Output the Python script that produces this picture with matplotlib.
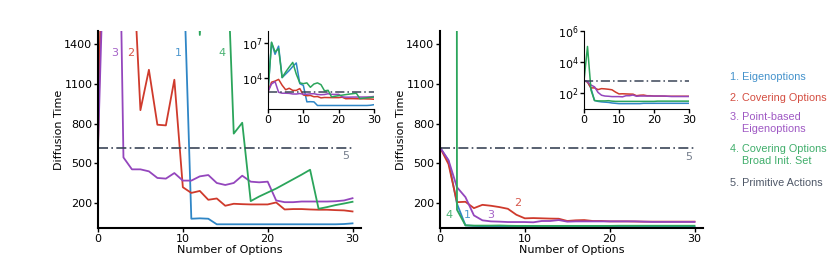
import matplotlib
matplotlib.use("Agg")
import matplotlib.pyplot as plt
import numpy as np

options = list(range(31))
primitive = 620

# Left environment
left_eigen = [620, 1.0e7, 1.0e6, 5.0e6, 1.0e4, 2.0e4, 4.0e4, 9.0e4, 1.8e5, 3.0e3, 2140,
              82, 85, 82, 40, 40, 40, 40, 40, 40, 40, 40, 40, 40, 40, 40, 40, 40, 40, 42, 47]
left_cover = [620, 4000, 5000, 7000, 2200, 902, 1207, 792, 787, 1132, 320,
              277, 292, 225, 235, 180, 195, 192, 190, 190, 190, 205, 152, 155, 155, 152,
              150, 150, 147, 145, 137]
left_point = [620, 2800, 4500, 545, 455, 455, 440, 390, 385, 427, 370,
              370, 402, 412, 352, 337, 352, 407, 362, 357, 362, 220, 207, 207, 212, 212,
              212, 212, 214, 220, 237]
left_broad = [620, 1.1e7, 1.6e6, 3.0e6, 1.0e4, 3.0e4, 8.0e4, 2.0e5, 2.0e4, 3.5e3, 3.0e3,
              3.5e3, 1470, 2.8e3, 3.5e3, 2450, 725, 807, 215, 250, 280, 310, 345, 380,
              415, 452, 157, 170, 185, 197, 210]

# Right environment
right_eigen = [620, 520, 195, 32, 28, 26, 25, 24, 22, 21, 20,
               20, 20, 20, 20, 20, 20, 21, 21, 21, 21, 21, 21, 21, 21, 21,
               21, 21, 21, 21, 21]
right_cover = [620, 495, 207, 210, 162, 187, 180, 170, 157, 112, 85,
               87, 85, 83, 82, 65, 70, 72, 65, 65, 62, 62, 62, 61, 60, 60,
               60, 60, 60, 60, 60]
right_point = [620, 525, 320, 245, 107, 70, 62, 60, 57, 57, 57,
               55, 65, 65, 72, 60, 62, 62, 62, 62, 62, 62, 62, 62, 60, 58,
               58, 58, 58, 58, 58]
right_broad = [620, 1.0e5, 150, 32, 30, 30, 30, 31, 29, 28, 28,
               28, 28, 28, 28, 28, 28, 28, 28, 28, 28, 29, 29, 29, 29, 29,
               29, 29, 29, 29, 29]

legend_labels = ["1. Eigenoptions", "2. Covering Options",
                 "3. Point-based\n    Eigenoptions",
                 "4. Covering Options\n    Broad Init. Set", "5. Primitive Actions"]

c_blue = "#2f86c6"
c_red = "#cf3a2c"
c_purple = "#9446bd"
c_green = "#2ba55b"
c_gray = "#3b4557"
colors = [c_blue, c_red, c_purple, c_green]

plt.rcParams['font.family'] = ['DejaVu Sans']
fig = plt.figure(figsize=(8.3, 2.61), dpi=100)

ax1 = fig.add_axes([98/830, 1-228/261, 263/830, 197/261])
ax2 = fig.add_axes([440/830, 1-228/261, 263/830, 197/261])
in1 = fig.add_axes([268/830, 1-109/261, 106/830, 78/261])
in2 = fig.add_axes([584/830, 1-109/261, 105/830, 78/261])

left_series = [left_eigen, left_cover, left_point, left_broad]
right_series = [right_eigen, right_cover, right_point, right_broad]

def style_main(ax):
    ax.set_xlim(0, 31)
    ax.set_ylim(12, 1500)
    ax.set_yticks([200, 500, 800, 1100, 1400])
    ax.set_xticks([0, 10, 20, 30])
    for s in ['top', 'right']:
        ax.spines[s].set_visible(False)
    for s in ['left', 'bottom']:
        ax.spines[s].set_linewidth(1.5)
    ax.tick_params(labelsize=8, length=3, width=1, pad=1)
    ax.set_xlabel("Number of Options", fontsize=8, labelpad=1)
    ax.set_ylabel("Diffusion Time", fontsize=8, labelpad=0)

def style_inset(ax, ylim, yticks):
    ax.set_yscale('log')
    ax.set_xlim(0, 30)
    ax.set_ylim(*ylim)
    ax.set_yticks(yticks)
    ax.minorticks_off()
    ax.set_xticks([0, 10, 20, 30])
    for s in ['top', 'right']:
        ax.spines[s].set_visible(False)
    ax.tick_params(labelsize=8, length=3, width=1, pad=1)

for ax, series in [(ax1, left_series), (ax2, right_series)]:
    for s, c in zip(series, colors):
        ax.plot(options, s, color=c, lw=1.3)
    ax.axhline(primitive, xmin=0, xmax=30/31, color=c_gray, lw=1.2, ls=(0, (6, 2, 1, 2)))
    style_main(ax)

for ax, series in [(in1, left_series), (in2, right_series)]:
    for s, c in zip(series, colors):
        ax.plot(options, s, color=c, lw=1.1)
    ax.plot([0, 30], [primitive, primitive], color=c_gray, lw=1.1, ls=(0, (6, 2, 1, 2)))

style_inset(in1, (20, 1e8), [1e4, 1e7])
style_inset(in2, (9, 1e6), [1e2, 1e4, 1e6])

# number labels
lab_kw = dict(fontsize=8, alpha=0.85, ha='center', va='center')
ax1.text(1.97, 1332, "3", color=c_purple, **lab_kw)
ax1.text(3.8, 1332, "2", color=c_red, **lab_kw)
ax1.text(9.5, 1332, "1", color=c_blue, **lab_kw)
ax1.text(14.6, 1332, "4", color=c_green, **lab_kw)
ax1.text(29.2, 557, "5", color="#5d6778", **lab_kw)
ax2.text(9.1, 200, "2", color=c_red, **lab_kw)
ax2.text(1.1, 110, "4", color=c_green, **lab_kw)
ax2.text(3.2, 110, "1", color=c_blue, **lab_kw)
ax2.text(6.0, 110, "3", color=c_purple, **lab_kw)
ax2.text(29.3, 550, "5", color="#5d6778", **lab_kw)

# legend-like text
leg_colors = [c_blue, c_red, c_purple, c_green, "#3b4557"]
leg_y = [77, 98, 123, 155, 183]
for lab, col, y in zip(legend_labels, leg_colors, leg_y):
    fig.text(730/830, 1 - y/261, lab, color=col, fontsize=7.8, va='center', ha='left',
             family=['Liberation Sans', 'DejaVu Sans'], linespacing=1.2, alpha=0.9)

fig.savefig("out.png", dpi=100)
